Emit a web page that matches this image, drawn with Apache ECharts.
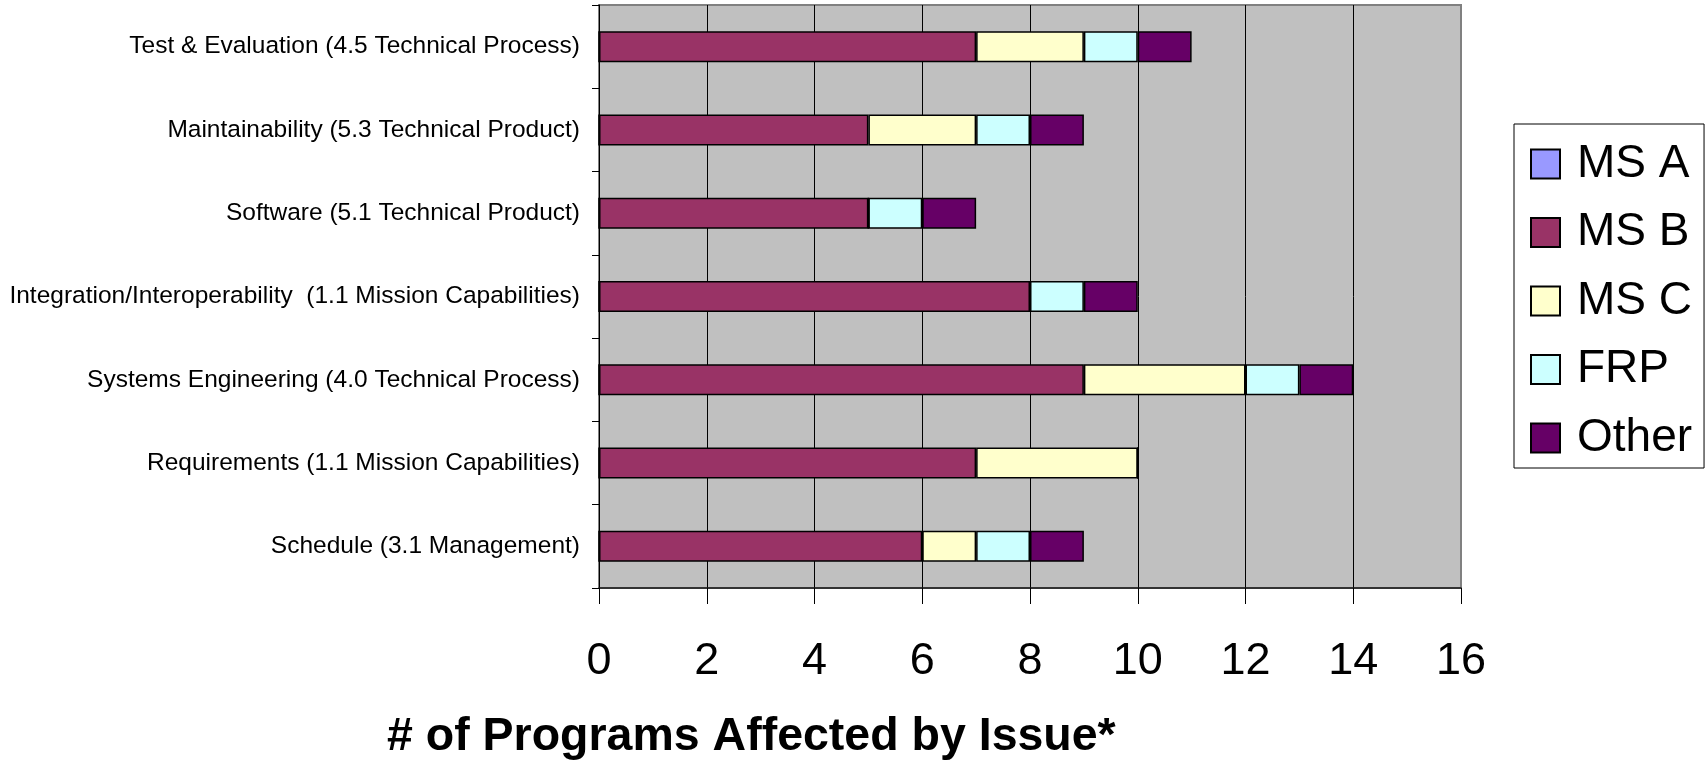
<!DOCTYPE html>
<html>
<head>
<meta charset="utf-8">
<script src="https://cdn.jsdelivr.net/npm/echarts@6/dist/echarts.min.js"></script>
<style>
  html, body { margin: 0; padding: 0; background: #ffffff; }
  #chart { width: 1708px; height: 764px; }
</style>
</head>
<body>
<div id="chart"></div>
<script>
// Issue categories, listed bottom to top as they appear on the axis
const categories = [
  'Schedule (3.1 Management)',
  'Requirements (1.1 Mission Capabilities)',
  'Systems Engineering (4.0 Technical Process)',
  'Integration/Interoperability  (1.1 Mission Capabilities)',
  'Software (5.1 Technical Product)',
  'Maintainability (5.3 Technical Product)',
  'Test & Evaluation (4.5 Technical Process)'
];

// Number of programs per milestone phase, one value per category
const msA   = [0, 0, 0, 0, 0, 0, 0];
const msB   = [6, 7, 9, 8, 5, 5, 7];
const msC   = [1, 3, 3, 0, 0, 2, 2];
const frp   = [1, 0, 1, 1, 1, 1, 1];
const other = [1, 0, 1, 1, 1, 1, 1];

const seriesNames  = ['MS A', 'MS B', 'MS C', 'FRP', 'Other'];
const seriesValues = [msA, msB, msC, frp, other];
const seriesColors = ['#9999FF', '#993366', '#FFFFCC', '#CCFFFF', '#660066'];

const xTicks = [0, 2, 4, 6, 8, 10, 12, 14, 16];
const xTitle = '# of Programs Affected by Issue*';

const FONT = '"Liberation Sans", Arial, sans-serif';

const chart = echarts.init(document.getElementById('chart'), null, { renderer: 'canvas' });

const series = seriesNames.map((name, i) => ({
  name: name,
  type: 'bar',
  stack: 'total',
  barWidth: 31,
  data: seriesValues[i],
  itemStyle: {
    color: seriesColors[i],
    borderColor: '#000000',
    borderWidth: 1.5
  },
  emphasis: { disabled: true }
}));

chart.setOption({
  animation: false,
  backgroundColor: '#ffffff',
  title: {
    text: xTitle,
    left: 387,
    top: 714,
    padding: 0,
    textStyle: {
      fontFamily: FONT,
      fontSize: 46.5,
      fontWeight: 'bold',
      color: '#000000'
    }
  },
  legend: {
    orient: 'vertical',
    left: 1514,
    top: 124,
    padding: [17, 12, 7, 16],
    itemWidth: 29,
    itemHeight: 29,
    itemGap: 22.5,
    icon: 'rect',
    backgroundColor: '#ffffff',
    borderColor: '#000000',
    borderWidth: 1,
    borderRadius: 0,
    selectedMode: false,
    data: seriesNames,
    textStyle: {
      fontFamily: FONT,
      fontSize: 46,
      lineHeight: 46,
      color: '#000000',
      padding: [0, 0, 0, 12]
    }
  },
  grid: {
    left: 599,
    right: 247,
    top: 5,
    bottom: 176,
    show: true,
    backgroundColor: '#C0C0C0',
    borderColor: '#808080',
    borderWidth: 2,
    containLabel: false
  },
  xAxis: {
    type: 'value',
    min: xTicks[0],
    max: xTicks[xTicks.length - 1],
    interval: xTicks[1] - xTicks[0],
    axisLine: { show: true, lineStyle: { color: '#1a1a1a', width: 1.5 } },
    axisTick: { show: true, inside: false, length: 16, lineStyle: { color: '#000000', width: 1 } },
    axisLabel: {
      margin: 51,
      fontFamily: FONT,
      fontSize: 45,
      color: '#000000'
    },
    splitLine: {
      show: true,
      showMinLine: false,
      showMaxLine: false,
      lineStyle: { color: '#000000', width: 1 }
    }
  },
  yAxis: {
    type: 'category',
    data: categories,
    axisLine: { show: true, lineStyle: { color: '#000000', width: 1 } },
    axisTick: { show: true, inside: false, length: 7, lineStyle: { color: '#000000', width: 1 } },
    axisLabel: {
      margin: 19,
      fontFamily: FONT,
      fontSize: 24.5,
      color: '#000000'
    },
    splitLine: { show: false }
  },
  series: series
});
</script>
</body>
</html>
